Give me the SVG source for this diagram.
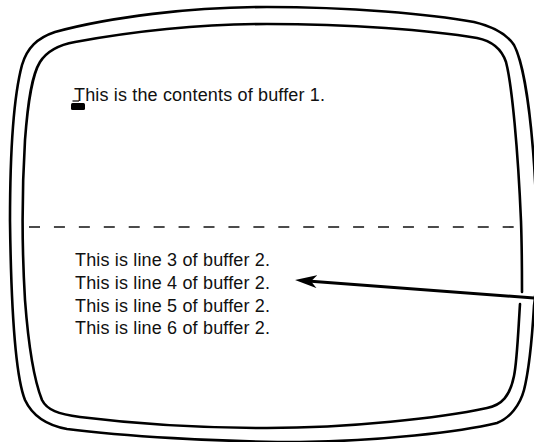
<svg xmlns="http://www.w3.org/2000/svg" width="534" height="442" viewBox="0 0 534 442">
  <style>
    .bezel { fill: none; stroke: #000; stroke-width: 2.6; stroke-linejoin: round; stroke-linecap: round; }
    .txt { font-family: "Liberation Sans", Arial, Helvetica, sans-serif; font-size: 18px; fill: #111; }
    .split { stroke: #111; stroke-width: 1.6; stroke-dasharray: 11 13.93; }
    .conn { stroke: #000; stroke-width: 3; fill: none; }
  </style>
  <defs>
    <marker id="head" viewBox="0 0 22 13" refX="6" refY="6.5" markerWidth="22" markerHeight="13" markerUnits="userSpaceOnUse" orient="auto">
      <path d="M22,6.5 L0,0 L6,6.5 L0,13 Z" fill="#000"/>
    </marker>
  </defs>
  <rect width="534" height="442" fill="#fff"/>

  <g id="screen">
    <path class="bezel" d="M10,221 C10,150 14,95 22,65 C27,48 37,38 55,32 C110,17 190,7 267,7 C350,7 430,14 474,22 C495,27 508,36 514,45 C522,60 529,100 533,150 C537,200 539,270 534,306 C532,340 529,370 524,390 C520,405 510,418 497,423 C460,432 380,441 300,442 C220,442 120,436 67,429 C45,425 32,415 25,400 C15,375 11,300 10,221 Z"/>
    <path class="bezel" d="M520,304 C518,335 517,362 514,376 C510,396 502,405 487,408 C440,418 350,428 267,428 C190,428 120,422 80,417 C58,414 47,410 42,400 C34,380 28,340 25,300 C22,250 22,190 25,140 C28,100 32,75 40,62 C47,51 58,45 75,42 C130,32 200,24 267,24 C350,24 430,30 477,38 C492,41 502,50 506,62 C512,85 518,150 521,221 C522,250 522,275 522,292"/>
  </g>

  <g id="buffer1">
    <text class="txt" x="74" y="100.5" textLength="251" lengthAdjust="spacing">This is the contents of buffer 1.</text>
    <line x1="72.5" y1="101" x2="79" y2="101" stroke="#000" stroke-width="1.2"/>
    <rect x="71" y="103" width="14" height="7" rx="1.5" fill="#000"/>
  </g>

  <g id="divider">
    <line class="split" x1="29" y1="227" x2="515" y2="227"/>
  </g>

  <g id="buffer2">
    <text class="txt" x="75" y="265.5" textLength="195" lengthAdjust="spacing">This is line 3 of buffer 2.</text>
    <text class="txt" x="75" y="288.5" textLength="195" lengthAdjust="spacing">This is line 4 of buffer 2.</text>
    <text class="txt" x="75" y="311.5" textLength="195" lengthAdjust="spacing">This is line 5 of buffer 2.</text>
    <text class="txt" x="75" y="334" textLength="195" lengthAdjust="spacing">This is line 6 of buffer 2.</text>
  </g>

  <g id="connectors">
    <line class="conn" x1="536" y1="298.1" x2="311" y2="281.2" marker-end="url(#head)"/>
  </g>
</svg>
